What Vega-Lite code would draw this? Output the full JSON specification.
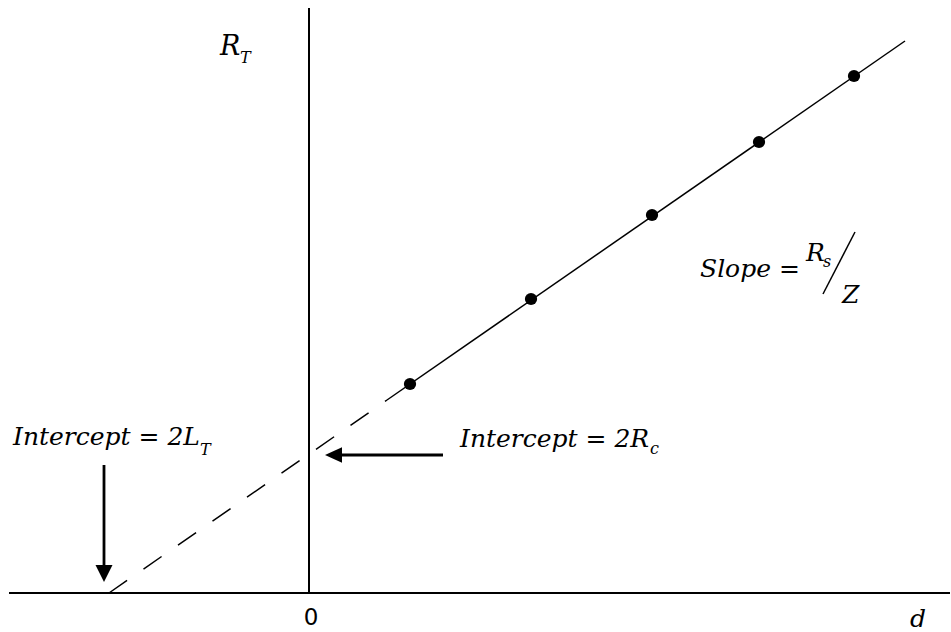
{
  "$schema": "https://vega.github.io/schema/vega-lite/v6.json",
  "width": 951,
  "height": 632,
  "autosize": {"type": "fit", "contains": "padding"},
  "padding": 0,
  "background": "white",
  "config": {"view": {"stroke": null}},
  "datasets": {
    "axes": [
      {"d": -3.0, "d2": 6.41, "r": 0, "r2": 0},
      {"d": 0, "d2": 0, "r": 0, "r2": 5.85}
    ],
    "extrapolated": [
      {"d": -2.0, "r": 0.0},
      {"d": 0.78, "r": 1.93}
    ],
    "measured": [
      {"d": 0.78, "r": 1.93},
      {"d": 5.96, "r": 5.52}
    ],
    "points": [
      {"d": 1.01, "r": 2.09},
      {"d": 2.22, "r": 2.94},
      {"d": 3.43, "r": 3.78},
      {"d": 4.50, "r": 4.51},
      {"d": 5.45, "r": 5.17}
    ],
    "arrowShafts": [
      {"d": 0.30, "d2": 1.34, "r": 1.38, "r2": 1.38},
      {"d": -2.05, "d2": -2.05, "r": 1.28, "r2": 0.26}
    ],
    "leftHead": [{"d": 0.16, "r": 1.38}],
    "downHead": [{"d": -2.05, "r": 0.11}],
    "slash": [{"d": 5.14, "d2": 5.46, "r": 2.99, "r2": 3.61}],
    "labels": [
      {"d": -2.96, "r": 1.48, "label": "Intercept = 2L"},
      {"d": 1.51, "r": 1.46, "label": "Intercept = 2R"},
      {"d": 3.91, "r": 3.16, "label": "Slope ="},
      {"d": 4.97, "r": 3.32, "label": "R"},
      {"d": 5.33, "r": 2.90, "label": "Z"},
      {"d": 6.01, "r": -0.34, "label": "d"}
    ],
    "axisTitle": [{"d": -0.89, "r": 5.38, "label": "R"}],
    "subscripts": [
      {"d": -1.09, "r": 1.38, "label": "T"},
      {"d": 3.41, "r": 1.39, "label": "c"},
      {"d": 5.14, "r": 3.26, "label": "s"},
      {"d": -0.69, "r": 5.30, "label": "T"}
    ],
    "origin": [{"d": 0.02, "r": -0.32, "label": "0"}]
  },
  "encoding": {
    "x": {"field": "d", "type": "quantitative", "axis": null,
          "scale": {"domain": [-3.09, 6.42], "nice": false, "zero": false}},
    "y": {"field": "r", "type": "quantitative", "axis": null,
          "scale": {"domain": [-0.39, 5.93], "nice": false, "zero": false}}
  },
  "layer": [
    {
      "data": {"name": "axes"},
      "mark": {"type": "rule", "color": "black", "strokeWidth": 2},
      "encoding": {"x2": {"field": "d2"}, "y2": {"field": "r2"}}
    },
    {
      "data": {"name": "extrapolated"},
      "mark": {"type": "line", "color": "black", "strokeWidth": 1.5, "strokeDash": [22, 20]},
      "encoding": {}
    },
    {
      "data": {"name": "measured"},
      "mark": {"type": "line", "color": "black", "strokeWidth": 1.5},
      "encoding": {}
    },
    {
      "data": {"name": "points"},
      "mark": {"type": "point", "filled": true, "color": "black", "opacity": 1, "size": 150, "shape": "circle"},
      "encoding": {}
    },
    {
      "data": {"name": "arrowShafts"},
      "mark": {"type": "rule", "color": "black", "strokeWidth": 2.8},
      "encoding": {"x2": {"field": "d2"}, "y2": {"field": "r2"}}
    },
    {
      "data": {"name": "leftHead"},
      "mark": {"type": "point", "filled": true, "color": "black", "opacity": 1, "size": 289,
               "shape": "M 0 0 L 2 -0.9 L 2 0.9 Z"},
      "encoding": {}
    },
    {
      "data": {"name": "downHead"},
      "mark": {"type": "point", "filled": true, "color": "black", "opacity": 1, "size": 289,
               "shape": "M 0 0 L -1 -2 L 1 -2 Z"},
      "encoding": {}
    },
    {
      "data": {"name": "slash"},
      "mark": {"type": "rule", "color": "black", "strokeWidth": 1.5},
      "encoding": {"x2": {"field": "d2"}, "y2": {"field": "r2"}}
    },
    {
      "data": {"name": "labels"},
      "mark": {"type": "text", "align": "left", "baseline": "alphabetic", "font": "DejaVu Serif",
               "fontStyle": "italic", "fontSize": 25, "color": "black"},
      "encoding": {"text": {"field": "label"}}
    },
    {
      "data": {"name": "axisTitle"},
      "mark": {"type": "text", "align": "left", "baseline": "alphabetic", "font": "DejaVu Serif",
               "fontStyle": "italic", "fontSize": 27, "color": "black"},
      "encoding": {"text": {"field": "label"}}
    },
    {
      "data": {"name": "subscripts"},
      "mark": {"type": "text", "align": "left", "baseline": "alphabetic", "font": "DejaVu Serif",
               "fontStyle": "italic", "fontSize": 16, "color": "black"},
      "encoding": {"text": {"field": "label"}}
    },
    {
      "data": {"name": "origin"},
      "mark": {"type": "text", "align": "center", "baseline": "alphabetic", "font": "DejaVu Sans",
               "fontSize": 23, "color": "black"},
      "encoding": {"text": {"field": "label"}}
    }
  ]
}
